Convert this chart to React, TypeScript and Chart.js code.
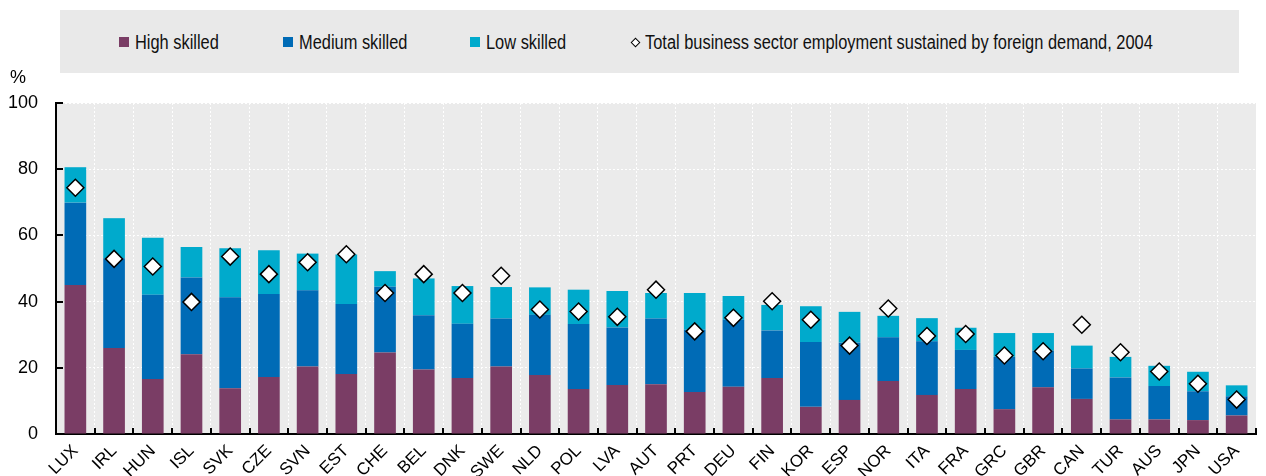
import React, { useEffect, useRef } from "react";
import { Chart, registerables } from "chart.js";

Chart.register(...registerables);

const categories = ["LUX","IRL","HUN","ISL","SVK","CZE","SVN","EST","CHE","BEL","DNK","SWE","NLD","POL","LVA","AUT","PRT","DEU","FIN","KOR","ESP","NOR","ITA","FRA","GRC","GBR","CAN","TUR","AUS","JPN","USA"];

const highSkilled = [45.0,26.0,16.6,24.1,13.8,17.2,20.4,18.1,24.6,19.5,16.9,20.4,17.8,13.6,14.8,15.0,12.7,14.3,16.9,8.2,10.3,16.0,11.8,13.6,7.5,14.1,10.6,4.4,4.4,4.2,5.6];
const mediumSkilled = [24.9,27.1,25.5,23.2,27.5,25.1,23.0,21.2,19.9,16.4,16.4,14.5,18.2,19.6,17.4,19.9,18.8,20.2,14.4,19.6,17.3,13.2,16.2,11.8,15.8,11.1,9.2,12.7,10.1,8.7,5.8];
const lowSkilled = [10.7,12.1,17.2,9.2,14.8,13.2,11.1,14.9,4.7,11.1,11.4,9.5,8.3,10.4,11.0,7.7,11.1,7.2,7.7,10.8,9.3,6.5,7.0,6.7,7.2,5.3,6.9,6.2,6.1,5.9,3.3];
const totalEmployment2004 = [74.4,52.9,50.6,39.9,53.6,48.3,51.9,54.3,42.6,48.3,42.6,47.8,37.6,37.0,35.4,43.6,31.0,35.1,40.1,34.5,26.7,37.9,29.6,30.2,23.7,25.0,33.0,24.7,18.9,15.2,10.4];

const yTicks = [0, 20, 40, 60, 80, 100];

const FONT = "'Liberation Sans', Arial, sans-serif";
const C_HIGH = "#7a3d65";
const C_MED = "#006bb6";
const C_LOW = "#00aacc";

const legendItems = [
  { label: "High skilled", color: C_HIGH, kind: "box", x: 119 },
  { label: "Medium skilled", color: C_MED, kind: "box", x: 283 },
  { label: "Low skilled", color: C_LOW, kind: "box", x: 470 },
  { label: "Total business sector employment sustained by foreign demand, 2004", color: "#fff", kind: "diamond", x: 630 },
];

const decorPlugin = {
  id: "decor",
  beforeDraw(chart: any) {
    const { ctx, chartArea } = chart;
    ctx.save();
    ctx.fillStyle = "#ebebeb";
    ctx.fillRect(chartArea.left, chartArea.top, chartArea.right - chartArea.left, chartArea.bottom - chartArea.top);
    ctx.restore();
  },
  afterDraw(chart: any) {
    const { ctx, chartArea } = chart;
    const xs = chart.scales.x;
    const ys = chart.scales.y;
    ctx.save();
    ctx.strokeStyle = "#000";
    ctx.lineWidth = 2;
    ctx.beginPath();
    yTicks.forEach((v) => {
      const y = Math.round(ys.getPixelForValue(v));
      ctx.moveTo(chartArea.left, y);
      ctx.lineTo(chartArea.left + 7, y);
    });
    for (let i = 1; i <= categories.length; i++) {
      const x = i < categories.length
        ? Math.round((xs.getPixelForTick(i - 1) + xs.getPixelForTick(i)) / 2)
        : Math.round(chartArea.right);
      ctx.moveTo(x, chartArea.bottom);
      ctx.lineTo(x, chartArea.bottom - 6);
    }
    ctx.stroke();
    ctx.fillStyle = "#000";
    ctx.font = `18px ${FONT}`;
    ctx.textAlign = "center";
    ctx.textBaseline = "middle";
    ctx.fillText("%", 18, 78);
    ctx.restore();
  },
};

export default function App() {
  const ref = useRef<HTMLCanvasElement | null>(null);

  useEffect(() => {
    if (!ref.current) return;
    const chart = new Chart(ref.current, {
      type: "bar",
      data: {
        labels: categories,
        datasets: [
          {
            type: "line",
            label: "Total business sector employment sustained by foreign demand, 2004",
            data: totalEmployment2004,
            showLine: false,
            pointStyle: "rectRot",
            pointRadius: 8.5,
            pointHoverRadius: 8.5,
            pointBackgroundColor: "#fff",
            pointBorderColor: "#000",
            pointBorderWidth: 1.5,
            order: 0,
            stack: "total",
          } as any,
          { label: "High skilled", data: highSkilled, backgroundColor: C_HIGH, order: 1, stack: "skills", barPercentage: 0.56, categoryPercentage: 1 },
          { label: "Medium skilled", data: mediumSkilled, backgroundColor: C_MED, order: 1, stack: "skills", barPercentage: 0.56, categoryPercentage: 1 },
          { label: "Low skilled", data: lowSkilled, backgroundColor: C_LOW, order: 1, stack: "skills", barPercentage: 0.56, categoryPercentage: 1 },
        ],
      },
      options: {
        responsive: false,
        animation: false,
        layout: { padding: { top: 103, left: 0, right: 0, bottom: 0 } },
        plugins: { legend: { display: false }, tooltip: { enabled: false } },
        scales: {
          x: {
            stacked: true,
            offset: true,
            grid: { color: "#ffffff", lineWidth: 1, drawTicks: false, offset: true },
            border: { display: true, color: "#000", width: 2, dash: [2, 2] },
            ticks: { font: { family: FONT, size: 17 }, color: "#000", minRotation: 45, maxRotation: 45, padding: 7, autoSkip: false },
            afterFit: (s: any) => { s.height = 42; },
          },
          y: {
            stacked: true,
            min: 0,
            max: 100,
            ticks: { stepSize: 20, font: { family: FONT, size: 18 }, color: "#000", padding: 18 },
            grid: { color: "#ffffff", lineWidth: 1, drawTicks: false },
            border: { display: true, color: "#000", width: 2, dash: [2, 2] },
            afterFit: (s: any) => { s.width = 56; },
          },
        },
      },
      plugins: [decorPlugin],
    });
    return () => chart.destroy();
  }, []);

  return (
    <div style={{ position: "absolute", left: 0, top: 0, width: 1266, height: 476, background: "#fff" }}>
      <canvas ref={ref} width={1266} height={476} style={{ position: "absolute", left: 0, top: 0 }} />
      <div style={{ position: "absolute", left: 60, top: 10, width: 1179, height: 63, background: "#e9e9e9" }} />
      {legendItems.map((it) => (
        <div key={it.label} style={{ position: "absolute", left: it.x, top: 42, height: 0, fontFamily: FONT, fontSize: 20, color: "#111", whiteSpace: "nowrap" }}>
          {it.kind === "box" ? (
            <span style={{ position: "absolute", left: 0, top: -5, width: 10, height: 10, background: it.color }} />
          ) : (
            <span style={{ position: "absolute", left: 1.5, top: -3.5, width: 7, height: 7, boxSizing: "border-box", border: "1.2px solid #000", background: "#fff", transform: "rotate(45deg)" }} />
          )}
          <span style={{ position: "absolute", left: it.kind === "box" ? 16 : 15, top: -12, lineHeight: "24px", transform: "scaleX(0.82)", transformOrigin: "0 50%" }}>{it.label}</span>
        </div>
      ))}
    </div>
  );
}
